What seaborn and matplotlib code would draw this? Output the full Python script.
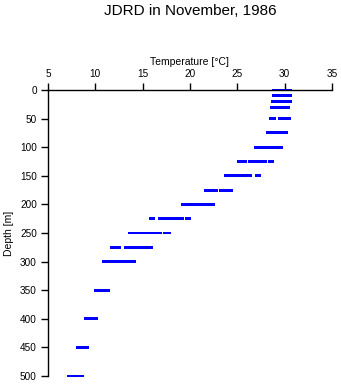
import matplotlib
matplotlib.use("Agg")
import matplotlib.pyplot as plt
import seaborn as sns
import pandas as pd

depth_levels = [0, 10, 20, 30, 50, 75, 100, 125, 150, 175, 200, 225, 250, 275, 300, 350, 400, 450, 500]
temps_by_level = [
    [28.8, 29.0, 29.2, 29.4, 29.6, 29.8, 30.0, 30.2, 30.4, 30.6],
    [28.8, 29.0, 29.2, 29.6, 29.8, 30.0, 30.2, 30.4, 30.6],
    [28.7, 28.9, 29.1, 29.4, 29.6, 29.8, 30.0, 30.2, 30.4, 30.6],
    [28.6, 28.8, 29.0, 29.2, 29.4, 29.6, 29.8, 30.0, 30.2, 30.4],
    [28.5, 28.7, 28.9, 29.4, 29.6, 29.8, 30.0, 30.2, 30.4, 30.5],
    [28.2, 28.4, 28.6, 28.8, 29.0, 29.2, 29.4, 29.6, 29.8, 30.0, 30.2],
    [26.9, 27.1, 27.4, 27.8, 28.0, 28.3, 28.6, 28.9, 29.2, 29.5, 29.7],
    [25.1, 25.4, 25.7, 25.9, 26.3, 26.6, 26.8, 27.1, 27.4, 27.7, 28.0, 28.4, 28.7],
    [23.7, 24.0, 24.3, 24.6, 24.9, 25.2, 25.5, 25.8, 26.1, 26.4, 27.0, 27.3],
    [21.6, 21.9, 22.2, 22.5, 22.8, 23.2, 23.5, 23.8, 24.1, 24.4],
    [19.2, 19.5, 19.8, 20.1, 20.4, 20.7, 21.0, 21.3, 21.6, 21.9, 22.2, 22.5],
    [15.8, 16.1, 16.8, 17.1, 17.4, 17.7, 18.0, 18.3, 18.6, 18.9, 19.2, 19.6, 19.9],
    [13.6, 13.9, 14.2, 14.5, 14.8, 15.1, 15.4, 15.7, 16.0, 16.3, 16.6, 16.9, 17.3, 17.6, 17.8],
    [11.7, 12.0, 12.3, 12.6, 13.2, 13.5, 13.8, 14.1, 14.4, 14.7, 15.0, 15.3, 15.6, 15.9],
    [10.9, 11.2, 11.5, 11.8, 12.1, 12.4, 12.7, 13.0, 13.3, 13.6, 13.9, 14.1],
    [10.0, 10.3, 10.6, 10.9, 11.2, 11.4],
    [9.0, 9.3, 9.6, 9.9, 10.1],
    [8.1, 8.4, 8.7, 9.0, 9.2],
    [7.2, 7.5, 7.8, 8.1, 8.4, 8.6],
]
temp_ticks = [5, 10, 15, 20, 25, 30, 35]
depth_ticks = [0, 50, 100, 150, 200, 250, 300, 350, 400, 450, 500]

rows = []
for d, ts in zip(depth_levels, temps_by_level):
    for t in ts:
        rows.append({"Temperature": t, "Depth": d})
df = pd.DataFrame(rows)

sns.set_theme(style="white")
plt.rcParams['font.family'] = ['Liberation Sans', 'DejaVu Sans']
plt.rcParams['text.color'] = 'black'
plt.rcParams['axes.labelcolor'] = 'black'
plt.rcParams['xtick.color'] = 'black'
plt.rcParams['ytick.color'] = 'black'

W, H = 341, 384
fig = plt.figure(figsize=(W / 100, H / 100), dpi=100)
ax = fig.add_axes([48 / W, 1 - 376 / H, (332 - 48) / W, (376 - 90) / H])

sns.scatterplot(data=df, x="Temperature", y="Depth", ax=ax, marker="s",
                s=4.5, color="#0000ff", edgecolor="none", linewidth=0)

ax.set_xlim(5, 35)
ax.set_ylim(500, 0)
ax.xaxis.tick_top()
ax.xaxis.set_label_position("top")
ax.set_xticks(temp_ticks)
ax.set_yticks(depth_ticks)
ax.set_xlabel("Temperature [°C]", fontsize=7.5, labelpad=3)
ax.set_ylabel("Depth [m]", fontsize=7.5, labelpad=4)
ax.tick_params(axis="both", labelsize=7.2, length=5, width=1, color="black",
               labelcolor="black", direction="out", pad=3)
ax.tick_params(axis="x", top=True, bottom=False, pad=3)
ax.tick_params(axis="y", left=True, right=False)
for s in ["right", "bottom"]:
    ax.spines[s].set_visible(False)
for s in ["left", "top"]:
    ax.spines[s].set_color("black")
    ax.spines[s].set_linewidth(1)
for c in ax.collections:
    c.set_clip_on(False)

fig.text(190 / W, 1 - 11 / H, "JDRD in November, 1986", ha="center", va="center",
         fontsize=11, color="black")

fig.savefig("out.png", dpi=100)
